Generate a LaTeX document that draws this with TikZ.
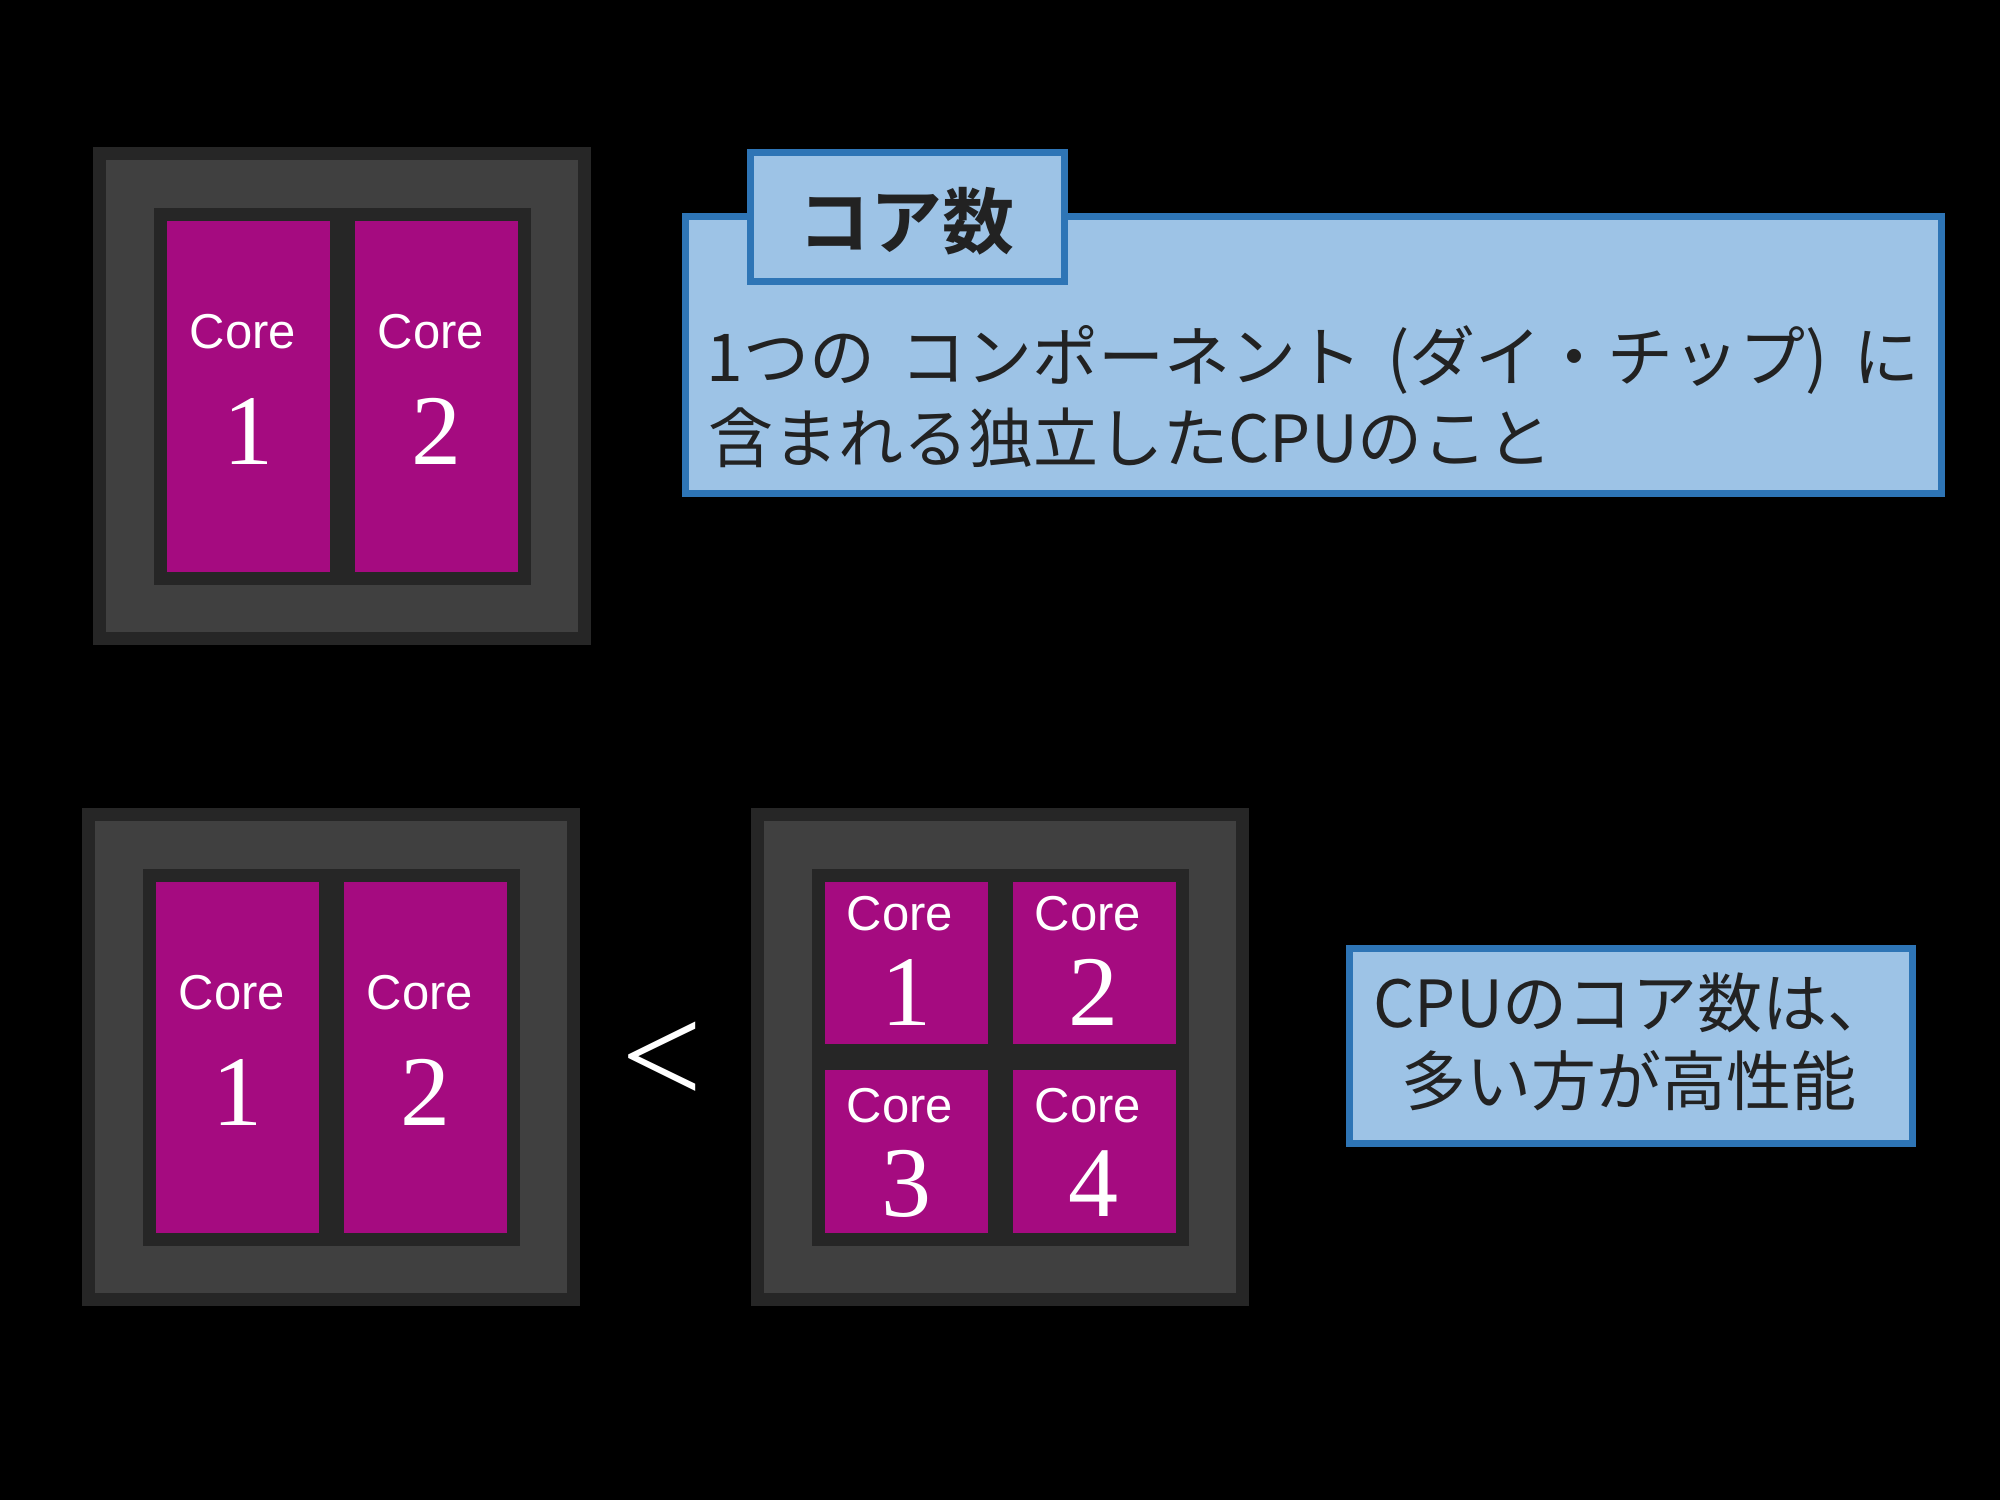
\documentclass[tikz,border=0pt]{standalone}
\usepackage{fontspec}
\newfontfamily\arialf{Liberation Sans}
\newfontfamily\timesf{Liberation Serif}
\newfontfamily\cjk[BoldFont={Noto Sans CJK JP Bold}]{Noto Sans CJK JP}
\definecolor{chipdark}{HTML}{262626}
\definecolor{chipgray}{HTML}{404040}
\definecolor{corepurple}{HTML}{A50B80}
\definecolor{boxfill}{HTML}{9DC3E6}
\definecolor{boxline}{HTML}{2E75B6}
\definecolor{txtdark}{HTML}{222222}
\tikzset{
  coretxt/.style={anchor=base,inner sep=0pt,text=white,font=\arialf\fontsize{24.5pt}{29pt}\selectfont},
  corenum/.style={anchor=base,inner sep=0pt,text=white,font=\timesf\fontsize{50pt}{60pt}\selectfont},
  callout/.style={fill=boxfill,draw=boxline,line width=3.5pt},
  jptxt/.style={anchor=base west,inner sep=0pt,text=txtdark,font=\cjk\fontsize{33pt}{40pt}\selectfont},
  jptxtb/.style={anchor=base west,inner sep=0pt,text=txtdark,font=\cjk\fontsize{32.5pt}{40pt}\selectfont},
}
\newcommand\drawchipframe{%
  \fill[chipdark] (0,0) rectangle (498,498);
  \fill[chipgray] (13,13) rectangle (485,485);
  \fill[chipdark] (61,61) rectangle (438,438);
}
\newcommand\twocores[1]{%
  \fill[corepurple] (74,74) rectangle (237,425);
  \fill[corepurple] (262,74) rectangle (425,425);
  \node[coretxt] (#1-t1) at (150,201) {Core};
  \node[corenum] (#1-n1) at (155.5,317) {1};
  \node[coretxt] (#1-t2) at (338,201) {Core};
  \node[corenum] (#1-n2) at (343.5,317) {2};
}
\begin{document}
\begin{tikzpicture}[x=0.5pt,y=-0.5pt]
\fill[black] (0,0) rectangle (2000,1500);
\useasboundingbox (0,0) rectangle (2000,1500);
% top-left chip
\begin{scope}[shift={(93,147)}]
  \drawchipframe
  \twocores{tl}
\end{scope}
% bottom-left chip
\begin{scope}[shift={(82,808)}]
  \drawchipframe
  \twocores{bl}
\end{scope}
% bottom-right chip (4 cores)
\begin{scope}[shift={(751,808)}]
  \drawchipframe
  \fill[corepurple] (74,74) rectangle (237,236);
  \fill[corepurple] (262,74) rectangle (425,236);
  \fill[corepurple] (74,262) rectangle (237,425);
  \fill[corepurple] (262,262) rectangle (425,425);
  \node[coretxt] (br-t1) at (149,122) {Core};
  \node[corenum] (br-n1) at (155.5,217) {1};
  \node[coretxt] (br-t2) at (337,122) {Core};
  \node[corenum] (br-n2) at (342,217) {2};
  \node[coretxt] (br-t3) at (149,314) {Core};
  \node[corenum] (br-n3) at (155.5,408) {3};
  \node[coretxt] (br-t4) at (337,314) {Core};
  \node[corenum] (br-n4) at (342,408) {4};
\end{scope}
% less-than sign
\node[anchor=center,inner sep=0pt,text=white,font=\timesf\fontsize{72pt}{80pt}\selectfont] (lt) at (662,1063) {<};
% top callout
\draw[callout] (685.5,216.5) rectangle (1941.5,493.5);
\draw[callout] (750.5,152.5) rectangle (1064.5,281.5);
\node[anchor=base,inner sep=0pt,text=txtdark,font=\cjk\bfseries\fontsize{36pt}{40pt}\selectfont] (title) at (906,248) {コア数};
\node[jptxt] (l1) at (706,381) {\hbox to 606.5pt{1つの\hfill コンポーネント\hfill (ダイ・チップ)\hfill に}};
\node[jptxt,font=\cjk\fontsize{32.5pt}{40pt}\selectfont] (l2) at (708,462) {含まれる独立したCPUのこと};
% bottom callout
\draw[callout] (1349.5,948.5) rectangle (1912.5,1143.5);
\node[jptxtb] (b1) at (1373,1027) {CPUのコア数は、};
\node[jptxtb] (b2) at (1401,1105) {多い方が高性能};
\end{tikzpicture}
\end{document}
